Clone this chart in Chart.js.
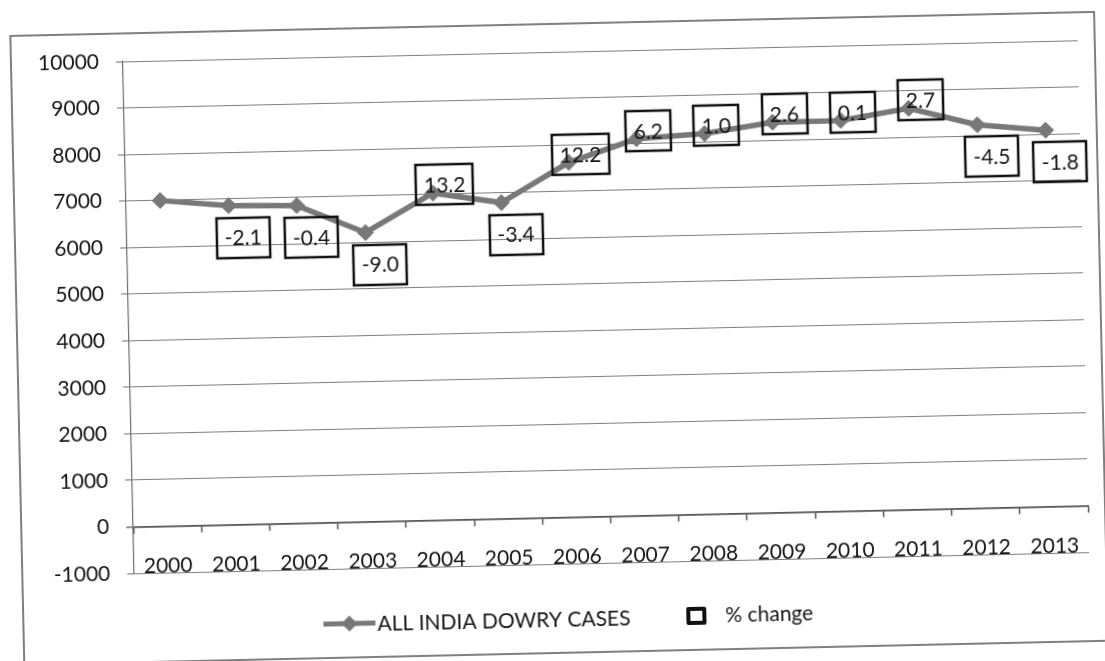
<!DOCTYPE html>
<html>
<head>
<meta charset="utf-8">
<title>All India Dowry Cases 2000–2013</title>
<script src="https://cdn.jsdelivr.net/npm/chart.js@4.4.1/dist/chart.umd.min.js"></script>
<style>
  html, body { margin: 0; padding: 0; background: #fff; overflow: hidden; }
  /* the source is a slightly skewed scan, so the whole chart is tilted a little */
  #wrap {
    position: absolute; left: 0; top: 0; width: 1105px; height: 661px;
    transform: rotate(-1.27deg); transform-origin: 552px 330px;
  }
</style>
</head>
<body>
<div id="wrap"><canvas id="dowry-chart" width="1105" height="661"></canvas></div>
<script>
// ─── data ─────────────────────────────────────────────
const YEARS = ['2000', '2001', '2002', '2003', '2004', '2005', '2006',
               '2007', '2008', '2009', '2010', '2011', '2012', '2013'];
const DOWRY_CASES = [6995, 6851, 6822, 6208, 7026, 6787, 7618,
                     8093, 8172, 8383, 8391, 8618, 8233, 8083];
const PCT_CHANGE = [null, -2.1, -0.4, -9.0, 13.2, -3.4, 12.2,
                    6.2, 1.0, 2.6, 0.1, 2.7, -4.5, -1.8];
const Y_MIN = -1000, Y_MAX = 10000, Y_STEP = 1000;
const SERIES_LABEL = 'ALL INDIA DOWRY CASES';
const PCT_LABEL = '% change';

const FONT = "Lato, 'Liberation Sans', sans-serif";
const LINE_COLOR = '#787878';
const TEXT_COLOR = '#151515';
const GRID_COLOR = '#7e7e7e';

// % change boxes: outlined, no fill; falls go under the point, rises sit on it
const pctBoxes = {
  id: 'pctBoxes',
  afterDatasetsDraw(chart) {
    const { ctx } = chart;
    const meta = chart.getDatasetMeta(0);
    ctx.save();
    ctx.font = `21px ${FONT}`;
    ctx.textAlign = 'center';
    ctx.textBaseline = 'middle';
    ctx.lineWidth = 2.5;
    ctx.strokeStyle = '#111';
    ctx.fillStyle = TEXT_COLOR;
    meta.data.forEach((pt, i) => {
      const v = PCT_CHANGE[i];
      if (v === null) return;
      const label = v.toFixed(1);
      const w = Math.round(ctx.measureText(label).width + 16);
      const h = 40;
      const cx = pt.x + (v < 0 ? 14 : 12);
      const cy = pt.y + (v < 0 ? 32 : -8);
      ctx.strokeRect(Math.round(cx - w / 2), Math.round(cy - h / 2), w, h);
      ctx.fillText(label, cx, cy + 1);
    });
    ctx.restore();
  },
};

// legend (line + diamond, then hollow square) and the outer frame
const legendAndFrame = {
  id: 'legendAndFrame',
  afterDraw(chart) {
    const { ctx } = chart;
    ctx.save();

    // frame
    ctx.strokeStyle = '#555';
    ctx.lineWidth = 1.5;
    ctx.strokeRect(17, 24, 1084, 629);

    const y = 619;
    // series sample
    ctx.strokeStyle = LINE_COLOR;
    ctx.lineWidth = 5;
    ctx.beginPath();
    ctx.moveTo(317, y);
    ctx.lineTo(369, y);
    ctx.stroke();
    ctx.fillStyle = LINE_COLOR;
    ctx.beginPath();
    ctx.moveTo(343, y - 8);
    ctx.lineTo(351, y);
    ctx.lineTo(343, y + 8);
    ctx.lineTo(335, y);
    ctx.closePath();
    ctx.fill();

    ctx.font = `21px ${FONT}`;
    ctx.textBaseline = 'middle';
    ctx.textAlign = 'left';
    ctx.fillStyle = TEXT_COLOR;
    ctx.fillText(SERIES_LABEL, 371, y + 1);

    // % change sample: small hollow square with a heavy outline
    ctx.strokeStyle = '#111';
    ctx.lineWidth = 4;
    ctx.lineJoin = 'round';
    ctx.strokeRect(682, y - 7, 16, 14);
    ctx.fillText(PCT_LABEL, 719, y);

    ctx.restore();
  },
};

new Chart(document.getElementById('dowry-chart'), {
  type: 'line',
  data: {
    labels: YEARS,
    datasets: [{
      label: SERIES_LABEL,
      data: DOWRY_CASES,
      borderColor: LINE_COLOR,
      backgroundColor: LINE_COLOR,
      borderWidth: 5.5,
      tension: 0,
      pointStyle: 'rectRot',
      pointRadius: 8,
      pointBackgroundColor: LINE_COLOR,
      pointBorderColor: LINE_COLOR,
      pointBorderWidth: 1,
    }],
  },
  options: {
    responsive: false,
    animation: false,
    layout: { padding: { left: 0, top: 52, right: 21, bottom: 97 } },
    scales: {
      x: {
        position: { y: 0 },
        offset: true,
        grid: {
          display: true,
          drawOnChartArea: false,
          offset: true,
          tickLength: 6,
          tickColor: '#555',
          tickWidth: 1.5,
        },
        border: { color: '#555', width: 1.5 },
        ticks: {
          color: TEXT_COLOR,
          font: { family: FONT, size: 21 },
          padding: 21,
          autoSkip: false,
          maxRotation: 0,
        },
      },
      y: {
        min: Y_MIN,
        max: Y_MAX,
        afterFit: s => { s.width = 129; },
        grid: {
          color: c => (c.tick && c.tick.value === 0 ? '#555' : GRID_COLOR),
          lineWidth: c => (c.tick && c.tick.value === 0 ? 1.5 : 1),
          tickLength: 7,
          tickColor: '#6e6e6e',
        },
        border: { color: '#6e6e6e', width: 1.2 },
        ticks: {
          stepSize: Y_STEP,
          color: TEXT_COLOR,
          font: { family: FONT, size: 21 },
          padding: 17,
          callback: v => String(v),
        },
      },
    },
    plugins: {
      legend: { display: false },
      tooltip: { enabled: false },
    },
  },
  plugins: [pctBoxes, legendAndFrame],
});
</script>
</body>
</html>
